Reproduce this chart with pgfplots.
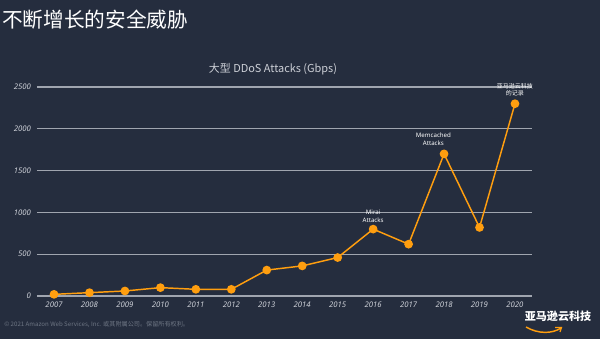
\documentclass[border=0pt]{standalone}
\usepackage{pgfplots}
\pgfplotsset{compat=1.18}
\usepackage{fontspec}
\setmainfont{Noto Sans}
\newfontfamily\cjk{Noto Sans CJK SC}
\definecolor{bg}{RGB}{37,45,62}
\definecolor{gridc}{RGB}{160,165,175}
\definecolor{amz}{RGB}{255,158,15}
\definecolor{tickc}{RGB}{205,208,215}
\definecolor{footc}{RGB}{110,118,132}
\begin{document}
\begin{tikzpicture}
\path[use as bounding box, fill=bg] (0,0) rectangle (450pt,254.25pt);
\begin{scope}[x=0.75pt,y=0.75pt]
\node[anchor=west, text=white, inner sep=0] at (2,339-20) {\cjk\fontsize{15.5}{16}\selectfont 不断增长的安全威胁};
\node[text=tickc, inner sep=0] at (273,339-69) {\cjk\fontsize{8.2}{9}\selectfont 大型 DDoS Attacks (Gbps)};
\node[anchor=west, text=footc, inner sep=0] at (4,339-325) {\cjk\fontsize{4.6}{5}\selectfont © 2021 Amazon Web Services, Inc. 或其附属公司。保留所有权利。};
\node[text=white, inner sep=0] at (558,339-316) {\cjk\bfseries\fontsize{8.3}{9}\selectfont 亚马逊云科技};
\draw[amz, line width=1.1pt] (526,339-327) .. controls (538,339-334) and (552,339-334) .. (561,339-328);
\draw[amz, line width=0.9pt] (555,339-327.5) -- (561.5,339-327.5) -- (560,339-332);
\end{scope}
\begin{axis}[
  at={(27.75pt,32.25pt)}, anchor=south west,
  scale only axis, width=371.25pt, height=156.75pt,
  xmin=2006.52, xmax=2020.48, ymin=0, ymax=2500,
  xtick={2007,...,2020}, ytick={0,500,...,2500},
  /pgf/number format/1000 sep={},
  /pgf/number format/assume math mode=true,
  axis line style={draw=none},
  ymajorgrids, grid style={gridc, line width=0.9pt},
  major tick length=0pt,
  tick label style={text=tickc, font=\fontsize{5.8}{6}\selectfont\itshape},
  xticklabel style={yshift=-1pt},
  yticklabel style={xshift=-1pt},
  clip=false,
]
\addplot[amz, line width=1.1pt, mark=*, mark size=2.7pt, mark options={fill=amz, draw=amz}] coordinates {
(2007,20) (2008,40) (2009,60) (2010,100) (2011,80) (2012,80) (2013,310) (2014,360) (2015,460) (2016,800) (2017,620) (2018,1700) (2019,820) (2020,2300)
};
\node[text=white, align=center, font=\fontsize{4.6}{5.4}\selectfont, anchor=south, inner sep=0] at (axis cs:2016,880) {Mirai\\Attacks};
\node[text=white, align=center, font=\fontsize{4.6}{5.4}\selectfont, anchor=south, inner sep=0] at (axis cs:2017.7,1800) {Memcached\\Attacks};
\node[text=white, align=center, font=\cjk\fontsize{4.5}{5.4}\selectfont, anchor=south, inner sep=0] at (axis cs:2020,2390) {亚马逊云科技\\的记录};
\end{axis}
\end{tikzpicture}
\end{document}
